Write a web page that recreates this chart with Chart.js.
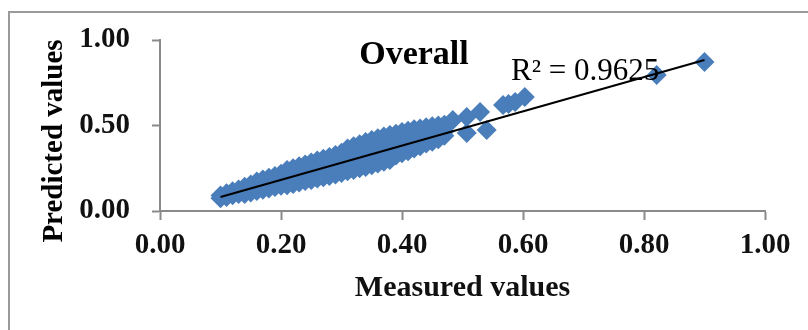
<!DOCTYPE html>
<html>
<head>
<meta charset="utf-8">
<script src="https://cdn.jsdelivr.net/npm/chart.js@4"></script>
<style>
	html, body { margin:0; padding:0; background:#fff; overflow:hidden; }
	#wrap { position:relative; width:808px; height:330px; }
	#frame { position:absolute; left:8px; top:11px; width:840px; height:360px; border:2px solid #9a9a9a; }
	#chart { position:absolute; left:0; top:0; }
</style>
</head>
<body>
<div id="wrap">
	<div id="frame"></div>
	<canvas id="chart" width="808" height="330"></canvas>
</div>
<script>
// -------- data
// dense band: one measured value per column, several predicted values per column
const band_measured = [0.10, 0.11, 0.12, 0.13, 0.14, 0.15, 0.16, 0.17, 0.18, 0.19, 0.20, 0.21, 0.22, 0.23, 0.24, 0.25, 0.26, 0.27, 0.28, 0.29, 0.30, 0.31, 0.32, 0.33, 0.34, 0.35, 0.36, 0.37, 0.38, 0.39, 0.40, 0.41, 0.42, 0.43, 0.44, 0.45, 0.46, 0.47];
const band_predicted = [
	[0.075, 0.090],
	[0.082, 0.095, 0.104],
	[0.092, 0.108, 0.115],
	[0.100, 0.113, 0.126],
	[0.100, 0.115, 0.130, 0.142],
	[0.108, 0.124, 0.140, 0.155],
	[0.117, 0.133, 0.148, 0.163, 0.172],
	[0.125, 0.142, 0.158, 0.175, 0.184],
	[0.132, 0.150, 0.166, 0.182, 0.195],
	[0.140, 0.160, 0.176, 0.194, 0.205],
	[0.148, 0.168, 0.185, 0.203, 0.218],
	[0.150, 0.172, 0.190, 0.210, 0.228, 0.240],
	[0.158, 0.180, 0.200, 0.220, 0.238, 0.250],
	[0.166, 0.190, 0.212, 0.230, 0.250, 0.262],
	[0.175, 0.200, 0.220, 0.242, 0.260, 0.272],
	[0.182, 0.208, 0.230, 0.252, 0.270, 0.284],
	[0.190, 0.215, 0.240, 0.262, 0.282, 0.295],
	[0.198, 0.225, 0.250, 0.272, 0.292, 0.305],
	[0.205, 0.232, 0.258, 0.282, 0.304, 0.316],
	[0.214, 0.242, 0.268, 0.292, 0.314, 0.328],
	[0.222, 0.250, 0.278, 0.302, 0.325, 0.340],
	[0.232, 0.258, 0.285, 0.310, 0.335, 0.355, 0.365],
	[0.240, 0.268, 0.296, 0.320, 0.345, 0.365, 0.378],
	[0.250, 0.278, 0.305, 0.330, 0.355, 0.375, 0.390],
	[0.258, 0.286, 0.315, 0.340, 0.365, 0.388, 0.403],
	[0.268, 0.295, 0.325, 0.350, 0.375, 0.398, 0.415],
	[0.278, 0.305, 0.335, 0.360, 0.385, 0.408, 0.425],
	[0.288, 0.315, 0.345, 0.370, 0.395, 0.418, 0.436],
	[0.298, 0.325, 0.352, 0.380, 0.405, 0.428, 0.445],
	[0.325, 0.350, 0.365, 0.390, 0.415, 0.438, 0.452],
	[0.338, 0.360, 0.375, 0.400, 0.425, 0.448, 0.462],
	[0.350, 0.372, 0.388, 0.410, 0.435, 0.456, 0.470],
	[0.365, 0.385, 0.400, 0.420, 0.445, 0.465, 0.478],
	[0.378, 0.398, 0.418, 0.440, 0.460, 0.482],
	[0.395, 0.412, 0.430, 0.452, 0.470, 0.490],
	[0.405, 0.425, 0.445, 0.465, 0.482, 0.495],
	[0.420, 0.440, 0.462, 0.485, 0.500],
	[0.440, 0.465, 0.490, 0.505]
];
// scattered points above 0.47
const outlier_measured  = [0.484, 0.507, 0.507, 0.529, 0.540, 0.567, 0.576, 0.587, 0.603, 0.821, 0.900];
const outlier_predicted = [0.532, 0.550, 0.456, 0.579, 0.474, 0.620, 0.626, 0.637, 0.667, 0.795, 0.871];
// linear trendline end points
const trend_measured  = [0.10, 0.90];
const trend_predicted = [0.082, 0.883];

const title_text = 'Overall';
const r2_text = 'R\u00B2 = 0.9625';
const x_title = 'Measured values';
const y_title = 'Predicted values';
const x_ticks = [0, 0.2, 0.4, 0.6, 0.8, 1.0];
const y_ticks = [0, 0.5, 1.0];

const marker_color = '#4A7EBB';
const axis_color = '#8a8a8a';
const serif = '"Liberation Serif", "Times New Roman", serif';

// build points
var points = [];
band_measured.forEach(function(x, i){
	band_predicted[i].forEach(function(y){
		points.push({x: x, y: y});
	});
});
outlier_measured.forEach(function(x, i){
	points.push({x: x, y: outlier_predicted[i]});
});
var trend = trend_measured.map(function(x, i){ return {x: x, y: trend_predicted[i]}; });

// texts inside the plot and the rotated y title
const texts_plugin = {
	id: 'texts',
	afterDraw: function(chart){
		var ctx = chart.ctx;
		ctx.save();
		ctx.fillStyle = '#000';
		ctx.textBaseline = 'alphabetic';
		ctx.textAlign = 'center';
		ctx.font = 'bold 34px ' + serif;
		ctx.fillText(title_text, 414, 64);
		ctx.textAlign = 'left';
		ctx.font = '31px ' + serif;
		ctx.fillText(r2_text, 511, 80);
		// y title
		ctx.translate(55, 141);
		ctx.rotate(-Math.PI / 2);
		ctx.textAlign = 'center';
		ctx.textBaseline = 'middle';
		ctx.font = 'bold 29px ' + serif;
		ctx.fillText(y_title, 0, 0);
		ctx.restore();
	}
};

new Chart(document.getElementById('chart'), {
	type: 'scatter',
	data: {
		datasets: [
			{
				data: trend,
				showLine: true,
				borderColor: '#000',
				borderWidth: 2,
				pointRadius: 0,
				order: 0
			},
			{
				data: points,
				pointStyle: 'rectRot',
				pointRadius: 10,
				backgroundColor: marker_color,
				borderColor: marker_color,
				borderWidth: 0,
				order: 1
			}
		]
	},
	options: {
		responsive: false,
		animation: false,
		devicePixelRatio: 1,
		layout: { padding: { left: 0, top: 40, right: 43, bottom: 0 } },
		plugins: { legend: { display: false }, tooltip: { enabled: false } },
		scales: {
			x: {
				type: 'linear',
				min: 0, max: 1,
				afterFit: function(scale){ scale.height = 119; },
				afterBuildTicks: function(scale){ scale.ticks = x_ticks.map(function(v){ return {value: v}; }); },
				grid: { drawOnChartArea: false, drawTicks: true, tickLength: 9, tickWidth: 2, color: axis_color },
				border: { display: true, color: axis_color, width: 2 },
				ticks: {
					padding: 8,
					color: '#111',
					font: { family: serif, size: 29, weight: 'bold' },
					callback: function(v){ return Number(v).toFixed(2); }
				},
				title: {
					display: true,
					text: x_title,
					color: '#111',
					font: { family: serif, size: 30, weight: 'bold' },
					padding: { top: 0, bottom: 24 }
				}
			},
			y: {
				type: 'linear',
				min: 0, max: 1,
				afterFit: function(scale){ scale.width = 160; },
				afterBuildTicks: function(scale){ scale.ticks = y_ticks.map(function(v){ return {value: v}; }); },
				grid: { drawOnChartArea: false, drawTicks: true, tickLength: 8, tickWidth: 2, color: axis_color },
				border: { display: true, color: axis_color, width: 2 },
				ticks: {
					padding: 22,
					color: '#111',
					font: { family: serif, size: 29, weight: 'bold' },
					callback: function(v){ return Number(v).toFixed(2); }
				}
			}
		}
	},
	plugins: [texts_plugin]
});
</script>
</body>
</html>
